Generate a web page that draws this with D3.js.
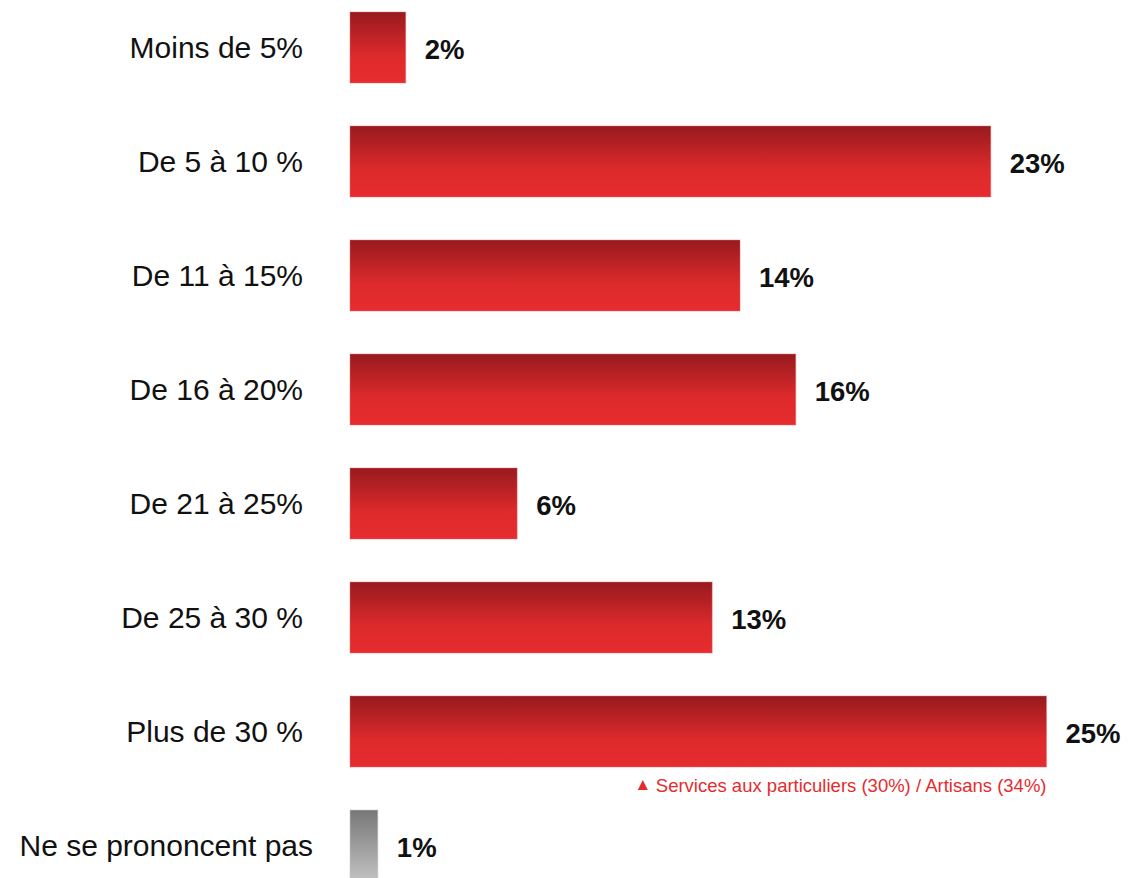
<!DOCTYPE html>
<html>
<head>
<meta charset="utf-8">
<script src="https://cdn.jsdelivr.net/npm/d3@7"></script>
<style>
  html, body { margin: 0; padding: 0; background: #fff; }
  svg { display: block; }
</style>
</head>
<body>
<svg id="chart" width="1128" height="878"></svg>
<script>
// Répartition des réponses par tranche
const categories = ["Moins de 5%", "De 5 à 10 %", "De 11 à 15%", "De 16 à 20%", "De 21 à 25%", "De 25 à 30 %", "Plus de 30 %", "Ne se prononcent pas"];
const values = [2, 23, 14, 16, 6, 13, 25, 1];
const valueLabels = ["2%", "23%", "14%", "16%", "6%", "13%", "25%", "1%"];
const noResponse = "Ne se prononcent pas";
const noteText = "Services aux particuliers (30%) / Artisans (34%)";
const noteRow = "Plus de 30 %";

const svg = d3.select("#chart");

const stepPx = 114, bandH = 71;
const x = d3.scaleLinear().domain([0, 25]).range([350, 1046.5]);
const y = d3.scaleBand()
  .domain(categories)
  .range([12, 12 + (categories.length - 1) * stepPx + bandH])
  .paddingInner((stepPx - bandH) / stepPx)
  .paddingOuter(0);

const defs = svg.append("defs");
const red = defs.append("linearGradient").attr("id", "gradRed").attr("x1", 0).attr("y1", 0).attr("x2", 0).attr("y2", 1);
red.append("stop").attr("offset", "0%").attr("stop-color", "#971a1e");
red.append("stop").attr("offset", "62%").attr("stop-color", "#de2a2c");
red.append("stop").attr("offset", "100%").attr("stop-color", "#e62c2e");
const grey = defs.append("linearGradient").attr("id", "gradGrey").attr("x1", 0).attr("y1", 0).attr("x2", 0).attr("y2", 1);
grey.append("stop").attr("offset", "0%").attr("stop-color", "#777777");
grey.append("stop").attr("offset", "100%").attr("stop-color", "#c2c2c2");

const rows = categories.map((c, i) => ({ cat: c, value: values[i], label: valueLabels[i] }));

// Barres
svg.append("g").selectAll("rect").data(rows).join("rect")
  .attr("x", x(0))
  .attr("y", d => y(d.cat))
  .attr("width", d => x(d.value) - x(0))
  .attr("height", y.bandwidth())
  .attr("fill", d => d.cat === noResponse ? "url(#gradGrey)" : "url(#gradRed)")
  .attr("stroke", d => d.cat === noResponse ? "rgba(200,200,200,0.6)" : "rgba(236,110,110,0.45)")
  .attr("stroke-width", 1);

// Libellés des catégories
svg.append("g").selectAll("text").data(rows).join("text")
  .attr("x", d => d.cat === noResponse ? 313 : 303)
  .attr("y", d => y(d.cat) + y.bandwidth() / 2)
  .attr("dy", "0.36em")
  .attr("text-anchor", "end")
  .attr("font-family", "Liberation Sans, Arial, sans-serif")
  .attr("font-size", 30)
  .attr("fill", "#111")
  .text(d => d.cat);

// Valeurs
svg.append("g").selectAll("text").data(rows).join("text")
  .attr("x", d => x(d.value) + 19)
  .attr("y", d => y(d.cat) + y.bandwidth() / 2 + 2)
  .attr("dy", "0.36em")
  .attr("font-family", "Liberation Sans, Arial, sans-serif")
  .attr("font-weight", "bold")
  .attr("font-size", 27.5)
  .attr("fill", "#111")
  .text(d => d.label);

// Note sous la barre « Plus de 30 % »
const noteY = y(noteRow) + y.bandwidth() + 25;
const note = svg.append("g");
const noteEl = note.append("text")
  .attr("x", x(25))
  .attr("y", noteY)
  .attr("text-anchor", "end")
  .attr("font-family", "Liberation Sans, Arial, sans-serif")
  .attr("font-size", 18.5)
  .attr("fill", "#e52b2d")
  .text(noteText);
const nb = noteEl.node().getBBox();
const tx = nb.x - 13, ty = noteY - 6;
note.append("path")
  .attr("d", `M${tx - 5},${ty + 4} L${tx + 5},${ty + 4} L${tx},${ty - 6} Z`)
  .attr("fill", "#e52b2d");
</script>
</body>
</html>
